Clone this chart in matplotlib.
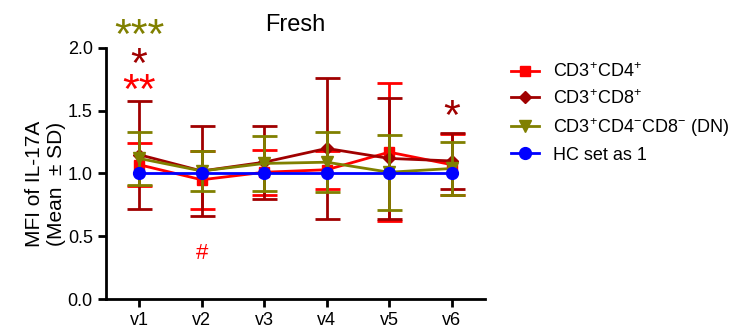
import numpy as np
import matplotlib
matplotlib.use("Agg")
import matplotlib.pyplot as plt
from matplotlib.lines import Line2D

plt.rcParams['font.family'] = ['Liberation Sans', 'DejaVu Sans']
plt.rcParams['mathtext.default'] = 'regular'

visits = ['v1', 'v2', 'v3', 'v4', 'v5', 'v6']

# means and SDs
cd4_mean = [1.07, 0.95, 1.01, 1.03, 1.17, 1.07]
cd4_sd = [0.17, 0.23, 0.18, 0.15, 0.55, 0.245]
cd8_mean = [1.15, 1.02, 1.09, 1.20, 1.12, 1.10]
cd8_sd = [0.43, 0.36, 0.29, 0.56, 0.48, 0.22]
dn_mean = [1.12, 1.02, 1.08, 1.09, 1.01, 1.04]
dn_sd = [0.21, 0.16, 0.22, 0.24, 0.30, 0.21]
hc_mean = [1.0, 1.0, 1.0, 1.0, 1.0, 1.0]

series = [
    (r'CD3$^{+}$CD4$^{+}$', cd4_mean, cd4_sd, '#FF0000', 's', 7.5),
    (r'CD3$^{+}$CD8$^{+}$', cd8_mean, cd8_sd, '#A00000', 'D', 6.5),
    (r'CD3$^{+}$CD4$^{-}$CD8$^{-}$ (DN)', dn_mean, dn_sd, '#808000', 'v', 8),
    ('HC set as 1', hc_mean, None, '#0000FF', 'o', 8.5),
]

x = np.arange(1, len(visits) + 1)

fig = plt.figure(figsize=(7.48, 3.28), dpi=100)
ax = fig.add_axes([0.1417, 0.0884, 0.5066, 0.7653])

handles = []
for i, (label, m, sd, col, mk, ms) in enumerate(series):
    if sd is None:
        ax.plot(x, m, color=col, marker=mk, markersize=ms, lw=2, zorder=5 + i)
    else:
        ax.errorbar(x, m, yerr=sd, color=col, marker=mk, markersize=ms, lw=2,
                    elinewidth=2, capsize=9, capthick=2, zorder=5 + i)
    handles.append(Line2D([], [], color=col, marker=mk, markersize=ms, lw=2, label=label))

# significance marks
star = dict(ha='center', va='center', clip_on=False, fontsize=31)
ax.text(1, 2.09, '***', color='#808000', **star)
ax.text(1, 1.86, '*', color='#A00000', **star)
ax.text(1, 1.65, '**', color='#FF0000', **star)
ax.text(6, 1.44, '*', color='#A00000', **star)
ax.text(2, 0.36, '#', color='#FF0000', fontsize=16, ha='center', va='center')

ax.set_xlim(0.47, 6.53)
ax.set_ylim(0, 2.0)
ax.set_xticks(x)
ax.set_xticklabels(visits, fontsize=13)
ax.set_yticks([0, 0.5, 1.0, 1.5, 2.0])
ax.set_yticklabels(['0.0', '0.5', '1.0', '1.5', '2.0'], fontsize=13)
ax.tick_params(width=2, length=6)
for s in ['top', 'right']:
    ax.spines[s].set_visible(False)
for s in ['left', 'bottom']:
    ax.spines[s].set_linewidth(2)

ax.set_ylabel('MFI of IL-17A\n(Mean  \u00b1 SD)', fontsize=15)
ax.yaxis.set_label_coords(-0.105, 0.46)
ax.set_title('Fresh', fontsize=17, pad=12)

fig.legend(handles=handles, loc='upper left', bbox_to_anchor=(0.662, 0.86), frameon=False,
           fontsize=13, handlelength=1.5, labelspacing=0.45, handletextpad=0.8)

fig.savefig('out.png', dpi=100)
